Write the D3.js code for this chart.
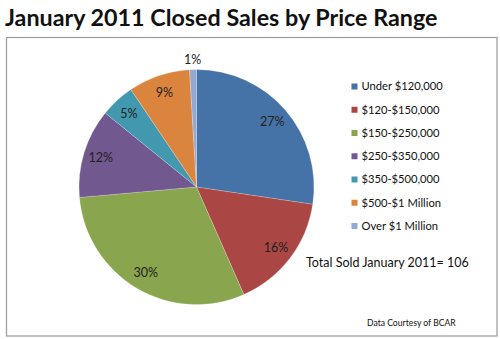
<!DOCTYPE html>
<html><head><meta charset="utf-8">
<script src="https://cdn.jsdelivr.net/npm/d3@7"></script>
<style>body{margin:0;background:#fff}svg{display:block}text{font-family:Lato,"Open Sans",sans-serif}</style>
</head><body>
<script>
const categories = ["Under $120,000","$120-$150,000","$150-$250,000","$250-$350,000","$350-$500,000","$500-$1 Million","Over $1 Million"];
const counts = [29,17,32,13,5,9,1];
const pctLabels = ["27%","16%","30%","12%","5%","9%","1%"];
const colors = ["#4572A7","#AA4643","#89A54E","#71588F","#4198AF","#DB843D","#93A9CF"];
const titleText = "January 2011 Closed Sales by Price Range";
const totalText = "Total Sold January 2011= 106";
const sourceText = "Data Courtesy of BCAR";

const W=500,H=339;
const svg=d3.select("body").append("svg").attr("width",W).attr("height",H);
svg.append("rect").attr("width",W).attr("height",H).attr("fill","#fff");
svg.append("text").attr("x",5).attr("y",26).attr("font-size",23.3).attr("font-weight","bold").attr("fill","#111").text(titleText);
svg.append("rect").attr("x",6.5).attr("y",37.5).attr("width",490.5).attr("height",298.5).attr("fill","#fff").attr("stroke","#a0a0a0").attr("stroke-width",1.3);

const cx=196.5,cy=187,r=117.5;
const pie=d3.pie().sort(null).value(d=>d);
const arcs=pie(counts);
const arc=d3.arc().innerRadius(0).outerRadius(r);
const g=svg.append("g").attr("transform",`translate(${cx},${cy})`);
g.selectAll("path").data(arcs).join("path").attr("d",arc).attr("fill",(d,i)=>colors[i]).attr("stroke","#fff").attr("stroke-opacity",0.35).attr("stroke-width",0.6);
const inArc=d3.arc().innerRadius(100).outerRadius(100);
const outArc=d3.arc().innerRadius(127).outerRadius(127);
g.selectAll("text.l").data(arcs).join("text").attr("class","l")
 .attr("transform",(d,i)=>`translate(${(i===6?outArc:inArc).centroid(d)})`)
 .attr("text-anchor","middle").attr("dy","0.35em").attr("font-size",12.5).attr("fill","#222").text((d,i)=>pctLabels[i]);

const leg=svg.append("g");
const ly=d3.scaleLinear().domain([0,6]).range([86.5,226]);
categories.forEach((c,i)=>{
  leg.append("rect").attr("x",351.5).attr("y",ly(i)-3).attr("width",6).attr("height",6).attr("fill",colors[i]);
  leg.append("text").attr("x",361.5).attr("y",ly(i)).attr("dy","0.35em").attr("font-size",11.2).attr("fill","#111").text(c);
});
svg.append("text").attr("x",306).attr("y",263).attr("dy","0.35em").attr("font-size",12.5).attr("fill","#111").text(totalText);
svg.append("text").attr("x",367).attr("y",323).attr("dy","0.35em").attr("font-size",8.6).attr("fill","#111").text(sourceText);
</script>
</body></html>
